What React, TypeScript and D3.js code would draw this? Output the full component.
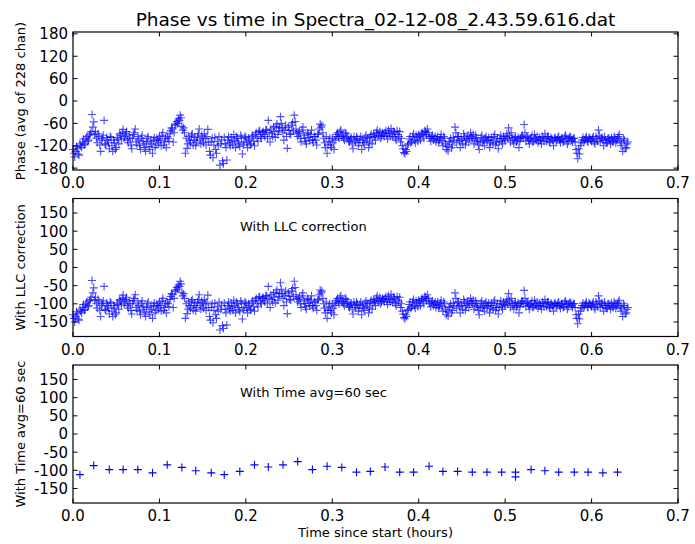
import React from "react";
import * as d3 from "d3";

// ---------- DATA ----------
const TITLE = "Phase vs time in Spectra_02-12-08_2.43.59.616.dat";
const X_LABEL = "Time since start (hours)";
const Y_LABELS = ["Phase (avg of 228 chan)", "With LLC correction", "With Time avg=60 sec"];
const ANNOTATIONS = ["", "With LLC correction", "With Time avg=60 sec"];
const X_TICKS = [0.0, 0.1, 0.2, 0.3, 0.4, 0.5, 0.6, 0.7];
const Y_TICKS_TOP = [-180, -120, -60, 0, 60, 120, 180];
const Y_TICKS_LOWER = [-150, -100, -50, 0, 50, 100, 150];

// raw phase samples every 0.002 h starting at 0.000 h
const SAMPLE_STEP_H = 0.002;
const rawPhaseA = [
  -130, -150, -122, -142, -115, -125, -102, -115, -95, -105,
  -88, -36, -56, -82, -112, -95, -135, -100, -52, -118,
  -105, -128, -98, -135, -112, -125, -102, -88, -104, -76,
  -95, -82, -112, -100, -128, -90, -75, -118, -105, -130,
  -92, -115, -135, -100, -122, -108, -140, -98, -118, -105,
  -95, -120, -85, -110, -125, -100, -88, -72, -110, -62,
  -55, -48, -38, -68, -72, -140, -127, -95, -112, -88,
  -105, -120, -96, -75, -115, -100, -88, -118, -76, -135,
  -110, -152, -98, -140, -120, -172, -104, -168, -115, -158,
  -95, -120, -108, -90, -125, -100, -115, -92, -142, -110,
  -98, -125, -105, -115, -92, -120, -85, -108, -80, -100,
  -82, -95, -78, -52, -110, -88, -70, -98, -62, -80,
  -42, -72, -105, -65, -127, -78, -90, -58, -38, -75,
  -95, -82, -110, -70, -100, -115, -88, -105, -78, -112,
  -95, -118, -88, -62, -65, -100, -125, -140, -108, -118,
  -100, -130, -95, -85, -100, -78, -92, -105, -88, -100,
  -110, -98, -128, -105, -95, -120, -102, -130, -112, -98,
  -108, -125, -95, -115, -88, -105, -78, -92, -100, -85,
  -95, -80, -102, -88, -74, -96, -85, -105, -90, -82,
  -100, -128, -141, -135, -115, -95, -108, -88, -112, -98,
  -90, -105, -85, -100, -82, -75, -95, -108, -92, -100,
  -110, -95, -105, -90, -120, -100, -130, -134, -108, -125,
  -98, -70, -112, -95, -125, -105, -88, -118, -100, -110,
  -85, -100, -115, -92, -108, -130, -98, -112, -120, -95,
  -105, -125, -98, -115, -90, -110, -128, -100, -108, -95,
  -105, -88, -72, -110, -98, -115, -95, -105, -125, -100,
  -92, -63, -108, -98, -115, -100, -110, -90, -105, -112,
  -98, -115, -100, -88, -108, -95, -112, -102, -120, -98,
  -105, -95, -112, -100, -108, -92, -115, -100, -98, -110,
  -100, -130, -155, -142, -112, -98, -105, -95, -110, -100,
  -108, -95, -115, -102, -78, -110, -98, -120, -105, -112,
  -100, -115, -108, -95, -112, -100, -90, -120, -135, -105,
  -125, -110,
];
// interleaved samples every 0.002 h starting at 0.001 h
const rawPhaseB = [
  -140, -135, -128, -145, -120, -110, -118, -100, -108, -92,
  -82, -70, -90, -100, -88, -118, -105, -92, -115, -98,
  -112, -95, -120, -105, -130, -98, -115, -92, -85, -100,
  -88, -105, -92, -118, -100, -85, -110, -95, -120, -100,
  -108, -125, -110, -95, -130, -115, -105, -125, -100, -112,
  -105, -92, -118, -100, -95, -108, -80, -75, -85, -65,
  -60, -52, -45, -78, -85, -100, -115, -105, -92, -118,
  -98, -110, -88, -105, -92, -112, -100, -95, -110, -145,
  -100, -118, -130, -108, -95, -115, -160, -98, -125, -105,
  -112, -98, -118, -105, -95, -110, -122, -100, -118, -95,
  -112, -100, -118, -95, -108, -90, -100, -82, -95, -85,
  -90, -78, -100, -85, -75, -95, -82, -68, -90, -72,
  -60, -85, -78, -95, -70, -88, -65, -80, -55, -85,
  -88, -100, -78, -92, -108, -85, -98, -90, -105, -95,
  -105, -90, -75, -70, -85, -112, -95, -118, -100, -125,
  -112, -105, -90, -95, -82, -95, -100, -85, -95, -108,
  -102, -115, -95, -110, -100, -112, -95, -105, -118, -92,
  -100, -112, -90, -98, -95, -85, -92, -82, -95, -88,
  -85, -92, -78, -95, -88, -82, -100, -80, -95, -110,
  -120, -138, -130, -118, -102, -112, -95, -105, -92, -108,
  -95, -88, -92, -80, -90, -85, -100, -95, -105, -95,
  -102, -112, -98, -108, -95, -115, -122, -110, -100, -118,
  -105, -85, -95, -108, -100, -115, -95, -105, -92, -100,
  -95, -90, -105, -100, -118, -110, -92, -105, -100, -108,
  -98, -112, -105, -95, -118, -100, -110, -92, -115, -102,
  -95, -100, -92, -85, -105, -100, -110, -98, -108, -95,
  -100, -85, -95, -105, -102, -92, -108, -100, -95, -105,
  -105, -95, -108, -100, -95, -110, -98, -105, -100, -108,
  -98, -105, -100, -110, -95, -102, -108, -95, -105, -100,
  -110, -140, -128, -120, -105, -110, -100, -108, -98, -105,
  -100, -110, -95, -108, -92, -100, -105, -95, -112, -100,
  -105, -98, -110, -100, -105, -95, -108, -112, -100, -128,
  -115,
];

// 60 s averages
const avgTimes = [
  0.008, 0.024, 0.042, 0.058, 0.075, 0.092, 0.109, 0.126, 0.142, 0.160,
  0.175, 0.193, 0.210, 0.226, 0.243, 0.260, 0.277, 0.294, 0.311, 0.328,
  0.344, 0.361, 0.378, 0.394, 0.412, 0.428, 0.445, 0.462, 0.479, 0.496,
  0.512, 0.512, 0.530, 0.546, 0.562, 0.580, 0.596, 0.613, 0.630,
];
const avgPhase = [
  -112, -87, -98, -98, -98, -107, -85, -92, -101, -107,
  -112, -103, -85, -91, -85, -76, -98, -89, -92, -105,
  -103, -91, -105, -105, -89, -103, -103, -105, -105, -105,
  -105, -118, -98, -101, -105, -105, -105, -107, -105,
];

// ---------- LAYOUT ----------
const W = 695;
const H = 544;
const LEFT = 73;
const RIGHT = 678;
const TOPS = [32, 198.5, 365];
const PH = 138;
const Y_DOMAINS: [number, number][] = [[-185, 185], [-190, 190], [-190, 190]];
const FONT = "DejaVu Sans, sans-serif";

const rawPoints = [
  ...rawPhaseA.map((v, i) => ({ t: i * SAMPLE_STEP_H, v })),
  ...rawPhaseB.map((v, i) => ({ t: SAMPLE_STEP_H / 2 + i * SAMPLE_STEP_H, v })),
];
const avgPoints = avgTimes.map((t, i) => ({ t, v: avgPhase[i] }));

function Cross({ x, y, s, opacity }: { x: number; y: number; s: number; opacity: number }) {
  return (
    <path
      d={`M${x - s},${y}H${x + s}M${x},${y - s}V${y + s}`}
      stroke="#0000ff"
      strokeWidth={1.1}
      strokeOpacity={opacity}
      fill="none"
    />
  );
}

function Panel({ idx }: { idx: number }) {
  const top = TOPS[idx];
  const bottom = top + PH;
  const x = d3.scaleLinear().domain([0, 0.7]).range([LEFT, RIGHT]);
  const y = d3.scaleLinear().domain(Y_DOMAINS[idx]).range([bottom, top]);
  const yTicks = idx === 0 ? Y_TICKS_TOP : Y_TICKS_LOWER;
  const pts = idx === 2 ? avgPoints : rawPoints;
  const tl = 4.5;
  const midY = (top + bottom) / 2;
  return (
    <g>
      <g>
        {pts.map((p, i) => (
          <Cross key={i} x={x(p.t)} y={y(p.v)} s={4} opacity={idx === 2 ? 1 : 0.7} />
        ))}
      </g>
      <rect x={LEFT} y={top} width={RIGHT - LEFT} height={PH} fill="none" stroke="#000" strokeWidth={1.2} />
      {X_TICKS.map((t) => (
        <g key={"x" + t}>
          <line x1={x(t)} x2={x(t)} y1={bottom} y2={bottom - tl} stroke="#000" />
          <line x1={x(t)} x2={x(t)} y1={top} y2={top + tl} stroke="#000" />
          <text x={x(t)} y={bottom + 18} fontSize={15} textAnchor="middle" fontFamily={FONT}>
            {t.toFixed(1)}
          </text>
        </g>
      ))}
      {yTicks.map((v) => (
        <g key={"y" + v}>
          <line x1={LEFT} x2={LEFT + tl} y1={y(v)} y2={y(v)} stroke="#000" />
          <line x1={RIGHT} x2={RIGHT - tl} y1={y(v)} y2={y(v)} stroke="#000" />
          <text x={LEFT - 5} y={y(v)} dy="0.36em" fontSize={15} textAnchor="end" fontFamily={FONT}>
            {v}
          </text>
        </g>
      ))}
      <text
        transform={`translate(25,${midY}) rotate(-90)`}
        fontSize={13}
        textAnchor="middle"
        fontFamily={FONT}
      >
        {Y_LABELS[idx]}
      </text>
      {ANNOTATIONS[idx] && (
        <text x={240} y={top + 32} fontSize={13} fontFamily={FONT}>
          {ANNOTATIONS[idx]}
        </text>
      )}
    </g>
  );
}

export default function App() {
  return (
    <svg
      width={W}
      height={H}
      style={{ position: "absolute", left: 0, top: 0, background: "#fff" }}
    >
      <rect x={0} y={0} width={W} height={H} fill="#fff" />
      <text x={(LEFT + RIGHT) / 2} y={26} fontSize={18.5} textAnchor="middle" fontFamily={FONT}>
        {TITLE}
      </text>
      {[0, 1, 2].map((i) => (
        <Panel key={i} idx={i} />
      ))}
      <text x={(LEFT + RIGHT) / 2} y={537} fontSize={13} textAnchor="middle" fontFamily={FONT}>
        {X_LABEL}
      </text>
    </svg>
  );
}
